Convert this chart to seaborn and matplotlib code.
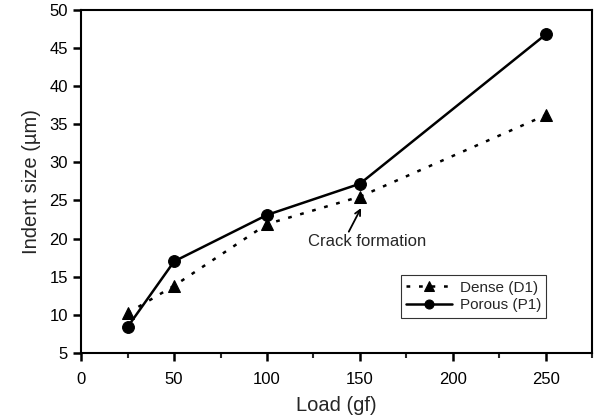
import matplotlib
matplotlib.use("Agg")
import matplotlib.pyplot as plt
import seaborn as sns
import pandas as pd
from matplotlib.ticker import MultipleLocator

load = [25, 50, 100, 150, 250]
dense = [10.2, 13.8, 21.9, 25.5, 36.2]
porous = [8.4, 17.0, 23.1, 27.2, 46.8]

sns.set_style("ticks")
plt.rcParams["font.family"] = ["Liberation Sans", "DejaVu Sans"]

fig = plt.figure(figsize=(5.97, 4.19), dpi=100)
ax = fig.add_axes([0.136, 0.158, 0.856, 0.818])

df_d = pd.DataFrame({"Load": load, "Size": dense})
df_p = pd.DataFrame({"Load": load, "Size": porous})

sns.lineplot(data=df_d, x="Load", y="Size", ax=ax, color="black", lw=1.8,
             linestyle=(0, (1.5, 3.5)), marker="^", markersize=8.5, markeredgecolor="black",
             label="Dense (D1)")
sns.lineplot(data=df_p, x="Load", y="Size", ax=ax, color="black", lw=1.8,
             linestyle="-", marker="o", markersize=8.5, markeredgecolor="black",
             label="Porous (P1)")

ax.set_xlim(0, 275)
ax.set_ylim(5, 50)
ax.xaxis.set_major_locator(MultipleLocator(50))
ax.xaxis.set_minor_locator(MultipleLocator(25))
ax.yaxis.set_major_locator(MultipleLocator(5))
ax.tick_params(axis="both", which="major", direction="out", length=6, width=1.8,
               labelsize=12, colors="black")
ax.tick_params(axis="x", which="major", pad=8)
ax.tick_params(axis="x", which="minor", direction="out", length=3.5, width=1.5)
for s in ax.spines.values():
    s.set_linewidth(1.5)
    s.set_color("black")

ax.set_xlabel("Load (gf)", fontsize=14.5, labelpad=6)
ax.set_ylabel("Indent size (\u00b5m)", fontsize=14.5, labelpad=6)

ax.text(153.8, 19.6, "Crack formation", ha="center", va="center", fontsize=12)
ax.annotate("", xy=(150.6, 24.0), xytext=(144, 20.9),
            arrowprops=dict(arrowstyle="->", color="black", lw=1.3,
                            shrinkA=0, shrinkB=0))

leg = ax.legend(loc="lower right", bbox_to_anchor=(0.925, 0.08), fontsize=11,
                frameon=True, fancybox=False, edgecolor="black",
                handlelength=3, borderpad=0.35, labelspacing=0.25, handletextpad=0.5)
leg.get_frame().set_linewidth(0.8)
for h in leg.legend_handles:
    h.set_markersize(6.5)

fig.savefig("out.png", dpi=100)
